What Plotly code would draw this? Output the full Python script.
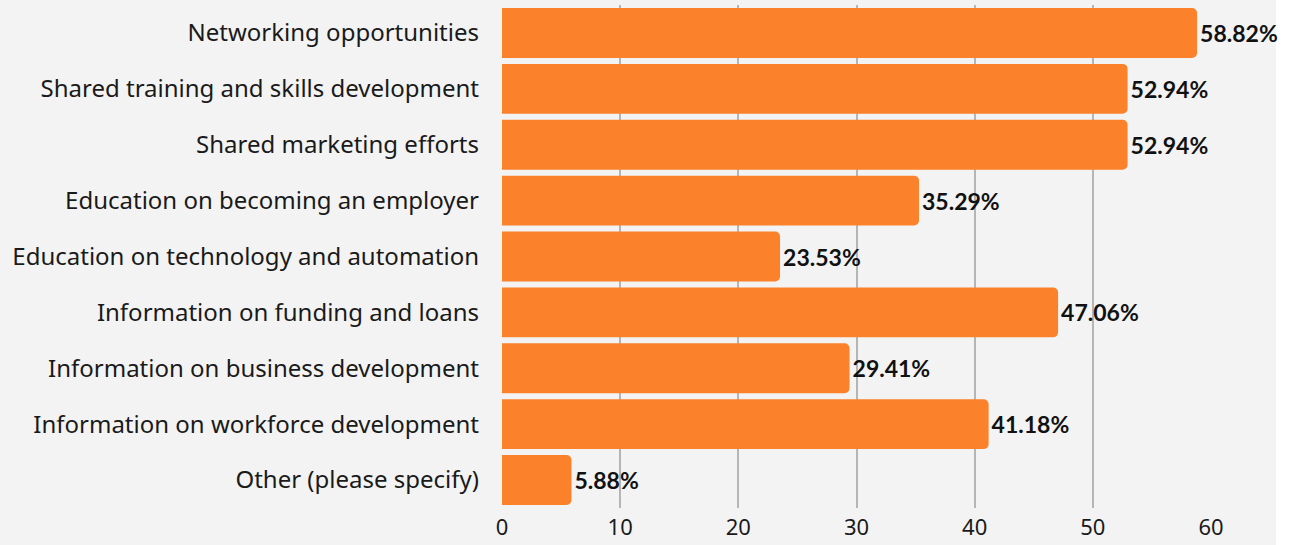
import plotly.graph_objects as go

categories = [
    "Networking opportunities",
    "Shared training and skills development",
    "Shared marketing efforts",
    "Education on becoming an employer",
    "Education on technology and automation",
    "Information on funding and loans",
    "Information on business development",
    "Information on workforce development",
    "Other (please specify)",
]
values = [58.82, 52.94, 52.94, 35.29, 23.53, 47.06, 29.41, 41.18, 5.88]
labels = [f"{v:.2f}%" for v in values]
x_ticks = [0, 10, 20, 30, 40, 50, 60]

fig = go.Figure(go.Bar(
    y=categories, x=values, orientation="h",
    marker=dict(color="#FC812B", cornerradius=5, line=dict(width=0)),
    text=labels, textposition="outside", cliponaxis=False,
    textfont=dict(family="Lato", size=23, color="#111111", weight="bold"),
))

W, H = 1291, 545
L, R, T, B = 502, 80, 5, 37
fig.update_layout(
    width=W, height=H,
    margin=dict(l=L, r=R, t=T, b=B, pad=0, autoexpand=False),
    paper_bgcolor="#f3f3f3", plot_bgcolor="#f3f3f3",
    bargap=0.107, showlegend=False,
    font=dict(family="Noto Sans", color="#1a1a1a", size=24),
    xaxis=dict(range=[0, 60], tickvals=x_ticks, showgrid=True, gridcolor="#b5b5b5",
               gridwidth=1.5, zeroline=False, showline=False, automargin=False,
               tickfont=dict(size=22, family="Noto Sans", color="#1a1a1a"),
               ticklabelstandoff=4, fixedrange=True),
    yaxis=dict(autorange="reversed", showgrid=False, zeroline=False, automargin=False,
               tickfont=dict(size=24, family="Noto Sans", color="#1a1a1a"),
               ticklabelstandoff=22),
)
pw = W - L - R
fig.add_shape(type="rect", xref="paper", yref="paper",
              x0=(1276 - L) / pw, x1=(W - L) / pw + 0.01, y0=-1, y1=2,
              fillcolor="white", line=dict(width=0), layer="below")
fig.write_html("out.html")
